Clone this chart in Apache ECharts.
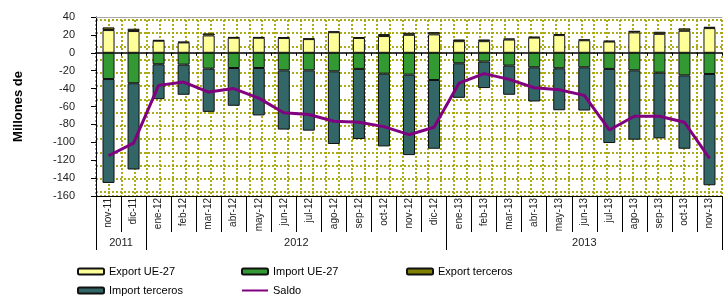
<!DOCTYPE html>
<html>
<head>
<meta charset="utf-8">
<script src="https://cdn.jsdelivr.net/npm/echarts@6/dist/echarts.min.js"></script>
<style>
  html, body { margin: 0; padding: 0; background: #fff; }
  #chart { width: 723px; height: 298px; }
</style>
</head>
<body>
<div id="chart"></div>
<script>
// meses (nov-11 .. nov-13)
const months = ['nov-11', 'dic-11', 'ene-12', 'feb-12', 'mar-12', 'abr-12', 'may-12', 'jun-12', 'jul-12',
  'ago-12', 'sep-12', 'oct-12', 'nov-12', 'dic-12', 'ene-13', 'feb-13', 'mar-13', 'abr-13', 'may-13',
  'jun-13', 'jul-13', 'ago-13', 'sep-13', 'oct-13', 'nov-13']
const years = ['2011', '2011', '2012', '2012', '2012', '2012', '2012', '2012', '2012', '2012', '2012', '2012',
  '2012', '2012', '2013', '2013', '2013', '2013', '2013', '2013', '2013', '2013', '2013', '2013', '2013']
const yTicks = { min: -160, max: 40, step: 20 }

const exportUE = [25.4, 24.3, 13.5, 11.6, 19.4, 16.8, 16.8, 16.6, 15.3, 23.0, 16.6, 18.7, 20.1,
  20.6, 13.0, 13.0, 14.8, 17.0, 19.8, 14.0, 12.6, 22.8, 21.2, 24.6, 27.6]
const importUE = [-29.3, -34.0, -12.8, -13.2, -17.7, -17.0, -17.0, -19.6, -19.6, -20.7, -18.0, -23.3, -24.4,
  -30.4, -11.7, -9.8, -14.3, -16.2, -17.3, -16.2, -18.0, -19.6, -22.2, -25.2, -23.7]
const exportTerceros = [3.0, 2.6, 0.7, 0.7, 2.3, 0.7, 0.7, 0.9, 0.7, 0.9, 0.9, 2.2, 2.3,
  2.5, 1.9, 1.9, 1.2, 0.9, 1.1, 0.9, 0.8, 1.8, 2.3, 2.7, 1.5]
const importTerceros = [-116.1, -96.4, -39.0, -33.7, -48.3, -42.2, -53.0, -66.2, -67.4, -81.2, -78.3, -81.3, -89.9,
  -76.8, -38.6, -29.6, -32.6, -38.2, -46.9, -48.3, -82.8, -77.5, -73.4, -82.0, -124.3]
const saldo = [-115.0, -101.0, -36.4, -32.7, -43.9, -40.0, -50.6, -67.0, -69.0, -76.5, -77.6, -82.5, -91.5,
  -83.2, -33.8, -23.3, -29.7, -39.0, -41.3, -47.6, -86.2, -70.9, -70.9, -77.6, -118.0]

const font = 'Liberation Sans, Arial, sans-serif'

// year groups -> boundaries and where to put the label
const yearBounds = [0]
for (let i = 1; i < years.length; i++) {
  if (years[i] !== years[i - 1]) yearBounds.push(i)
}
const yearLabelAt = {}
yearBounds.forEach((start, k) => {
  const end = k + 1 < yearBounds.length ? yearBounds[k + 1] : years.length
  const center = (start + end) / 2
  if (Number.isInteger(center)) {
    yearLabelAt[center - 1] = 'shift'
  } else {
    yearLabelAt[center - 0.5] = 'plain'
  }
})

const chart = echarts.init(document.getElementById('chart'))

const barItem = (color) => ({ color: color, borderColor: '#111', borderWidth: 1 })
const dots = { color: '#a3a300', width: 1.8, type: [2, 2] }

// una leyenda por elemento, en dos filas de tres columnas
const legendSlots = [
  { name: 'Export UE-27', left: 72, top: 261 },
  { name: 'Import UE-27', left: 236, top: 261 },
  { name: 'Export terceros', left: 401, top: 261 },
  { name: 'Import terceros', left: 72, top: 280 },
  { name: 'Saldo', left: 236, top: 280, itemStyle: { opacity: 0 } }
]
const legends = legendSlots.map((s) => ({
  left: s.left, top: s.top, itemWidth: 26, itemHeight: 6, itemGap: 0,
  data: [s.itemStyle ? { name: s.name, itemStyle: s.itemStyle } : s.name],
  textStyle: { fontSize: 11, color: '#000', fontFamily: font }
}))

chart.setOption({
  animation: false,
  textStyle: { fontFamily: font },
  grid: [
    { left: 96, right: 1, top: 17, bottom: 102, containLabel: false },
    // dotted background pattern
    { left: 96, right: 1, top: 20, bottom: 102, containLabel: false }
  ],
  legend: legends,
  xAxis: [
    // linea del cero
    {
      type: 'category', data: months, gridIndex: 0, position: 'bottom',
      axisLine: { onZero: true, lineStyle: { color: '#000', width: 1.5 } },
      axisTick: { show: true, interval: 0, length: 3, lineStyle: { color: '#000' } },
      axisLabel: { show: false }
    },
    // meses
    {
      type: 'category', data: months, gridIndex: 0, position: 'bottom',
      axisLine: { onZero: false, lineStyle: { color: '#000', width: 1 } },
      axisTick: { show: true, interval: 0, length: 36, lineStyle: { color: '#000' } },
      axisLabel: { interval: 0, rotate: 90, margin: 2, fontSize: 10, color: '#222', fontFamily: font }
    },
    // años
    {
      type: 'category', data: years, gridIndex: 0, position: 'bottom', offset: 36,
      axisLine: { show: false, onZero: false },
      axisTick: {
        show: true, length: 18, lineStyle: { color: '#000' },
        interval: (idx) => yearBounds.indexOf(idx) >= 0
      },
      axisLabel: {
        margin: 5, fontSize: 11, color: '#222',
        interval: (idx) => yearLabelAt[idx] !== undefined,
        formatter: (val, idx) => yearLabelAt[idx] === 'shift' ? '{s|' + val + '}' : '{n|' + val + '}',
        rich: {
          s: { fontSize: 11, color: '#222', padding: [0, 0, 0, 25], fontFamily: font },
          n: { fontSize: 11, color: '#222', fontFamily: font }
        }
      }
    },
    // borde superior
    {
      type: 'category', data: months, gridIndex: 0, position: 'top',
      axisLine: { onZero: false, lineStyle: { color: '#a8a8a8', width: 1 } },
      axisTick: { show: false }, axisLabel: { show: false }
    },
    {
      type: 'value', gridIndex: 1, min: 0, max: 49, interval: 1,
      axisLine: { show: false }, axisTick: { show: false }, axisLabel: { show: false },
      splitLine: { show: true, lineStyle: dots }
    }
  ],
  yAxis: [
    {
      type: 'value', gridIndex: 0, min: yTicks.min, max: yTicks.max, interval: yTicks.step,
      name: 'Millones de', nameLocation: 'middle', nameRotate: 90, nameGap: 71,
      nameTextStyle: { fontSize: 13, fontWeight: 'bold', color: '#000', fontFamily: font },
      axisLine: { show: true, lineStyle: { color: '#000', width: 1 } },
      axisTick: { show: true, length: 5, lineStyle: { color: '#000' } },
      axisLabel: { margin: 21, fontSize: 11, color: '#222', fontFamily: font },
      splitLine: { show: false }
    },
    {
      type: 'value', gridIndex: 1, inverse: true, min: 0, max: 13.3, interval: 1,
      axisLine: { show: false }, axisTick: { show: false }, axisLabel: { show: false },
      splitLine: { show: true, lineStyle: dots }
    }
  ],
  series: [
    {
      name: 'Export UE-27', type: 'bar', stack: 'total', barWidth: 12,
      xAxisIndex: 0, yAxisIndex: 0, itemStyle: barItem('#ffff99'), data: exportUE
    },
    {
      name: 'Import UE-27', type: 'bar', stack: 'total', barWidth: 12,
      xAxisIndex: 0, yAxisIndex: 0, itemStyle: barItem('#339933'), data: importUE
    },
    {
      name: 'Export terceros', type: 'bar', stack: 'total', barWidth: 12,
      xAxisIndex: 0, yAxisIndex: 0, itemStyle: barItem('#808000'), data: exportTerceros
    },
    {
      name: 'Import terceros', type: 'bar', stack: 'total', barWidth: 12,
      xAxisIndex: 0, yAxisIndex: 0, itemStyle: barItem('#336666'), data: importTerceros
    },
    {
      name: 'Saldo', type: 'line', xAxisIndex: 0, yAxisIndex: 0, z: 5,
      symbol: 'none', smooth: false,
      lineStyle: { color: '#800080', width: 3 }, itemStyle: { color: '#800080' },
      data: saldo
    }
  ]
})
</script>
</body>
</html>
